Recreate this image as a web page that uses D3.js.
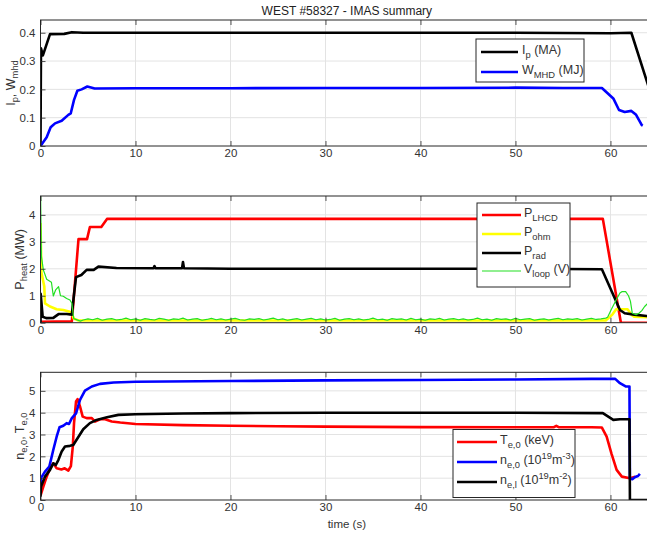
<!DOCTYPE html>
<html><head><meta charset="utf-8">
<script src="https://cdn.jsdelivr.net/npm/d3@7"></script>
<style>
body{margin:0;background:#fff;}
svg{display:block;font-family:"Liberation Sans",Arial,sans-serif;}
</style></head><body>
<svg id="c" width="647" height="533"></svg>
<script>
// ---------- data ----------
const xTicks = [0, 10, 20, 30, 40, 50, 60];
const yTicks1 = [0, 0.1, 0.2, 0.3, 0.4];
const yTicks2 = [0, 1, 2, 3, 4];
const yTicks3 = [0, 1, 2, 3, 4, 5];

// panel 1
const ipT = [0, 0.05, 0.25, 1.0, 2.5, 3.3, 4.5, 10, 30, 50, 60, 62.2, 64.5];
const ipV = [0, 0.345, 0.32, 0.395, 0.396, 0.402, 0.400, 0.400, 0.400, 0.400, 0.398, 0.400, 0.158];
const wT = [0, 0.65, 1.07, 1.53, 2.23, 2.93, 3.18, 3.53, 3.88, 4.33, 4.93, 5.7, 10, 20, 30, 40, 50, 55, 59.1, 60.3, 60.9, 61.5, 62.2, 62.7, 63.3, 63.4];
const wV = [0, 0.031, 0.066, 0.080, 0.089, 0.11, 0.115, 0.163, 0.195, 0.2, 0.21, 0.203, 0.204, 0.204, 0.205, 0.205, 0.206, 0.205, 0.205, 0.168, 0.127, 0.12, 0.124, 0.11, 0.074, 0.072];

// panel 2
const lhT = [0, 3.3, 4.0, 4.9, 5.2, 6.4, 7.0, 10, 59.2, 61.1, 64.5];
const lhV = [0.03, 0.05, 3.1, 3.1, 3.55, 3.55, 3.85, 3.85, 3.85, 0, 0];
const ohT = [0, 0.1, 0.4, 0.47, 1.0, 1.7, 2.4, 3.1, 3.3, 3.5, 4.0, 59.5, 60.2, 60.6, 61.8, 62.2, 62.5, 64.5];
const ohV = [3.7, 1.85, 1.34, 0.72, 0.6, 0.5, 0.47, 0.41, 0.35, 0.15, 0.08, 0.08, 0.3, 0.5, 0.5, 0.3, 0.22, 0.2];
const radT = [0, 0.02, 0.23, 0.6, 1.35, 1.9, 2.75, 3.3, 3.5, 3.74, 4.3, 4.86, 5.6, 6.1, 8, 11.9, 12.0, 12.1, 14.9, 15.0, 15.1, 20, 30, 40, 50, 55, 59.1, 61, 61.5, 62.5, 63.8, 64.5];
const radV = [0, 1.07, 0.22, 0.17, 0.18, 0.32, 0.32, 0.3, 0.97, 1.69, 1.77, 1.96, 1.96, 2.08, 2.03, 2.02, 2.1, 2.02, 2.02, 2.25, 2.02, 2.0, 2.0, 2.0, 2.0, 1.99, 1.98, 0.47, 0.35, 0.3, 0.25, 0.25];
const vlStartT = [0, 0.1, 0.3, 0.65, 1.15, 1.35, 1.6, 1.9, 2.1, 2.4, 2.75, 3.1, 3.3, 3.5, 4.2];
const vlStartV = [5.0, 2.45, 1.96, 1.61, 1.5, 0.99, 1.22, 1.34, 1.0, 0.98, 0.9, 0.84, 0.72, 0.15, 0.06];
const vlBaseT = [4.5,5,5.5,6,6.5,7,7.5,8,8.5,9,9.5,10,10.5,11,11.5,12,12.5,13,13.5,14,14.5,15,15.5,16,16.5,17,17.5,18,18.5,19,19.5,20,20.5,21,21.5,22,22.5,23,23.5,24,24.5,25,25.5,26,26.5,27,27.5,28,28.5,29,29.5,30,30.5,31,31.5,32,32.5,33,33.5,34,34.5,35,35.5,36,36.5,37,37.5,38,38.5,39,39.5,40,40.5,41,41.5,42,42.5,43,43.5,44,44.5,45,45.5,46,46.5,47,47.5,48,48.5,49,49.5,50,50.5,51,51.5,52,52.5,53,53.5,54,54.5,55,55.5,56,56.5,57,57.5,58,58.5,59,59.5];
const vlBaseV = [0.10,0.14,0.11,0.16,0.09,0.13,0.15,0.10,0.12,0.17,
0.11,0.14,0.09,0.15,0.12,0.10,0.16,0.13,0.09,0.14,
0.12,0.17,0.10,0.13,0.15,0.09,0.12,0.16,0.11,0.14,
0.10,0.13,0.16,0.11,0.09,0.14,0.12,0.15,0.10,0.13,
0.17,0.11,0.14,0.09,0.12,0.15,0.10,0.13,0.16,0.11,
0.14,0.10,0.12,0.16,0.09,0.13,0.15,0.11,0.14,0.10,
0.12,0.17,0.11,0.13,0.09,0.15,0.12,0.14,0.10,0.16,
0.11,0.13,0.09,0.14,0.12,0.16,0.10,0.13,0.15,0.11,
0.14,0.10,0.12,0.17,0.11,0.13,0.09,0.15,0.12,0.14,
0.10,0.16,0.11,0.13,0.15,0.09,0.12,0.14,0.10,0.13,
0.16,0.11,0.14,0.12,0.15,0.10,0.13,0.16,0.12,0.14,
0.17];
const vlEndT = [59.7, 60.1, 60.6, 61.0, 61.2, 61.6, 61.9, 62.1, 62.3, 62.7, 63.0, 63.3, 63.6, 64.0, 64.5];
const vlEndV = [0.2, 0.5, 0.84, 1.1, 1.15, 1.15, 1.0, 0.8, 0.35, 0.3, 0.35, 0.45, 0.6, 0.75, 0.8];

// panel 3
const teT = [0, 0.3, 0.65, 1.0, 1.35, 1.7, 2.2, 2.55, 2.93, 3.2, 3.4, 3.53, 3.74, 3.9, 4.15, 4.44, 4.86, 5.4, 5.74, 6.26, 6.8, 7.5, 8.4, 10, 15, 20, 25, 30, 40, 50, 54, 54.3, 54.6, 58, 59.1, 59.6, 60.1, 60.65, 61.2, 62.05, 62.6];
const teV = [0.2, 0.61, 1.07, 1.45, 1.68, 1.45, 1.4, 1.45, 1.35, 1.55, 2.45, 3.52, 4.51, 4.62, 4.3, 3.82, 3.75, 3.75, 3.59, 3.7, 3.7, 3.6, 3.55, 3.48, 3.43, 3.4, 3.38, 3.36, 3.34, 3.33, 3.33, 3.4, 3.33, 3.33, 3.32, 2.9, 2.14, 1.38, 1.07, 1.0, 1.07];
const ne0T = [0, 0.05, 0.47, 0.93, 1.35, 1.7, 2.0, 2.4, 2.75, 3.0, 3.3, 3.74, 4.16, 4.68, 5.4, 6.26, 7.7, 10, 20, 30, 40, 50, 58, 60.5, 61.0, 61.6, 62.0, 62.05, 62.3, 62.6, 62.9, 63.1];
const ne0V = [0.61, 1.0, 1.3, 1.53, 2.3, 2.9, 3.33, 3.4, 3.52, 3.48, 3.75, 3.97, 4.59, 5.01, 5.2, 5.32, 5.38, 5.42, 5.45, 5.48, 5.5, 5.52, 5.55, 5.55, 5.35, 5.2, 5.2, 1.0, 0.95, 1.05, 1.1, 1.2];
const nelT = [0, 0.05, 0.47, 1.0, 1.35, 1.6, 1.88, 2.23, 2.58, 3.1, 3.45, 4.0, 4.5, 5.2, 5.9, 7.0, 8.2, 10, 15, 20, 30, 40, 50, 59.2, 60.3, 61.0, 62.0, 62.05, 64.5];
const nelV = [0.15, 0.61, 1.07, 1.38, 1.68, 1.6, 1.83, 2.22, 2.45, 2.48, 2.52, 2.9, 3.24, 3.52, 3.67, 3.79, 3.9, 3.93, 3.96, 3.98, 4.0, 4.0, 4.0, 3.98, 3.67, 3.7, 3.7, 0, 0];

// ---------- drawing ----------
const svg = d3.select("#c");
const x = d3.scaleLinear().domain([0, 64.5]).range([40.5, 653.2]);
const frameCol = "#262626", gridCol = "#e3e3e3", textCol = "#333";

function zip(t, v) { return t.map((d, i) => [d, v[i]]); }

function rich(sel, parts, size, subDy) {
  let shift = 0;
  parts.forEach(p => {
    const [txt, kind] = p;
    const target = kind === "sub" ? subDy : kind === "sup" ? -5 : 0;
    const ts = sel.append("tspan").text(txt)
      .attr("font-size", kind ? size * 0.75 : size);
    if (target !== shift) { ts.attr("dy", target - shift); shift = target; }
  });
}

const panels = [
  { top: 20, bottom: 146, dom: [0, 0.445], ticks: yTicks1, fmt: d => d === 0 ? "0" : d3.format(".1f")(d),
    ylab: [["I"], ["p", "sub"], [", W"], ["mhd", "sub"]], ylabX: 15,
    series: [
      { d: zip(ipT, ipV), c: "#000000", w: 2.6 },
      { d: zip(wT, wV), c: "#0000ff", w: 2.6 }
    ],
    legend: { x: 476, y: 39, w: 108, h: 43, lx0: 481, lx1: 518, tx: 522, rows: [
      { y: 52, c: "#000", w: 2.6, parts: [["I"], ["p", "sub"], [" (MA)"]] },
      { y: 72, c: "#0000ff", w: 2.6, parts: [["W"], ["MHD", "sub"], [" (MJ)"]] } ] } },
  { top: 196, bottom: 322.7, dom: [0, 4.7], ticks: yTicks2, fmt: d3.format("d"),
    ylab: [["P"], ["heat", "sub"], [" (MW)"]], ylabX: 24,
    series: [
      { d: zip(lhT, lhV), c: "#ff0000", w: 2.6 },
      { d: zip(ohT, ohV), c: "#ffff00", w: 2.6 },
      { d: zip(radT, radV), c: "#000000", w: 2.6 },
      { d: zip(vlStartT.concat(vlBaseT, vlEndT), vlStartV.concat(vlBaseV, vlEndV)), c: "#22e022", w: 1.2 }
    ],
    legend: { x: 477, y: 203, w: 93, h: 84, lx0: 482, lx1: 521, tx: 524, rows: [
      { y: 215, c: "#ff0000", w: 2.6, parts: [["P"], ["LHCD", "sub"]] },
      { y: 234, c: "#ffff00", w: 2.6, parts: [["P"], ["ohm", "sub"]] },
      { y: 253, c: "#000", w: 2.6, parts: [["P"], ["rad", "sub"]] },
      { y: 271, c: "#22e022", w: 1.2, parts: [["V"], ["loop", "sub"], [" (V)"]] } ] } },
  { top: 372.3, bottom: 500, dom: [0, 5.85], ticks: yTicks3, fmt: d3.format("d"),
    ylab: [["n"], ["e,0", "sub"], [", T"], ["e,0", "sub"]], ylabX: 24,
    series: [
      { d: zip(teT, teV), c: "#ff0000", w: 2.6 },
      { d: zip(ne0T, ne0V), c: "#0000ff", w: 2.6 },
      { d: zip(nelT, nelV), c: "#000000", w: 2.6 }
    ],
    legend: { x: 453, y: 429.5, w: 122, h: 68, lx0: 457, lx1: 497, tx: 500, rows: [
      { y: 442, c: "#ff0000", w: 2.6, parts: [["T"], ["e,0", "sub"], [" (keV)"]] },
      { y: 462, c: "#0000ff", w: 2.6, parts: [["n"], ["e,0", "sub"], [" (10"], ["19", "sup"], ["m"], ["-3", "sup"], [")"]] },
      { y: 482, c: "#000", w: 2.6, parts: [["n"], ["e,l", "sub"], [" (10"], ["19", "sup"], ["m"], ["-2", "sup"], [")"]] } ] } }
];

const x0 = x.range()[0], x1 = x.range()[1];

panels.forEach((p, i) => {
  const y = d3.scaleLinear().domain(p.dom).range([p.bottom, p.top]);
  const g = svg.append("g");
  // grid
  g.selectAll(".gx").data(xTicks.slice(1)).join("line")
    .attr("x1", d => x(d)).attr("x2", d => x(d)).attr("y1", p.top).attr("y2", p.bottom)
    .attr("stroke", gridCol).attr("stroke-width", 1);
  g.selectAll(".gy").data(p.ticks.slice(1)).join("line")
    .attr("x1", x0).attr("x2", x1).attr("y1", d => y(d)).attr("y2", d => y(d))
    .attr("stroke", gridCol).attr("stroke-width", 1);
  // clip
  const cid = "clip" + i;
  svg.append("clipPath").attr("id", cid).append("rect")
    .attr("x", x0).attr("y", p.top).attr("width", x1 - x0).attr("height", p.bottom - p.top);
  const line = d3.line().x(d => x(d[0])).y(d => y(d[1]));
  const lg = g.append("g").attr("clip-path", `url(#${cid})`);
  p.series.forEach(s => {
    lg.append("path").attr("d", line(s.d)).attr("fill", "none")
      .attr("stroke", s.c).attr("stroke-width", s.w).attr("stroke-linejoin", "round");
  });
  // axes
  const ax = g.append("g").attr("transform", `translate(0,${p.bottom})`)
    .call(d3.axisBottom(x).tickValues(xTicks).tickSize(-5).tickPadding(3).tickFormat(d3.format("d")));
  const axt = g.append("g").attr("transform", `translate(0,${p.top})`)
    .call(d3.axisTop(x).tickValues(xTicks).tickSize(-5).tickFormat(""));
  const ay = g.append("g").attr("transform", `translate(${x0},0)`)
    .call(d3.axisLeft(y).tickValues(p.ticks).tickSize(-5).tickPadding(5).tickFormat(p.fmt));
  [ax, axt, ay].forEach(a => {
    a.select(".domain").remove();
    a.selectAll(".tick line").attr("stroke", frameCol).attr("stroke-width", 0.8);
    a.selectAll("text").attr("fill", textCol).attr("font-size", 11.5)
      .attr("font-family", "Liberation Sans, Arial, sans-serif");
  });
  // frame
  g.append("rect").attr("x", x0).attr("y", p.top).attr("width", x1 - x0).attr("height", p.bottom - p.top)
    .attr("fill", "none").attr("stroke", frameCol).attr("stroke-width", 1);
  // y label
  const yl = g.append("text")
    .attr("transform", `translate(${p.ylabX},${(p.top + p.bottom) / 2}) rotate(-90)`)
    .attr("text-anchor", "middle").attr("fill", textCol);
  rich(yl, p.ylab, 12.5, 3);
  // legend
  const L = p.legend;
  g.append("rect").attr("x", L.x).attr("y", L.y).attr("width", L.w).attr("height", L.h)
    .attr("fill", "#fff").attr("stroke", frameCol).attr("stroke-width", 1);
  L.rows.forEach(r => {
    g.append("line").attr("x1", L.lx0).attr("x2", L.lx1).attr("y1", r.y).attr("y2", r.y)
      .attr("stroke", r.c).attr("stroke-width", r.w);
    const t = g.append("text").attr("x", L.tx).attr("y", r.y + 2).attr("fill", textCol);
    rich(t, r.parts, 12.5, 3.5);
  });
});

// title and x label
svg.append("text").attr("x", (x0 + x1) / 2).attr("y", 15).attr("text-anchor", "middle")
  .attr("font-size", 12).attr("fill", "#222").text("WEST #58327 - IMAS summary");
svg.append("text").attr("x", (x0 + x1) / 2).attr("y", 528).attr("text-anchor", "middle")
  .attr("font-size", 11.5).attr("fill", textCol).text("time (s)");
</script>
</body></html>
